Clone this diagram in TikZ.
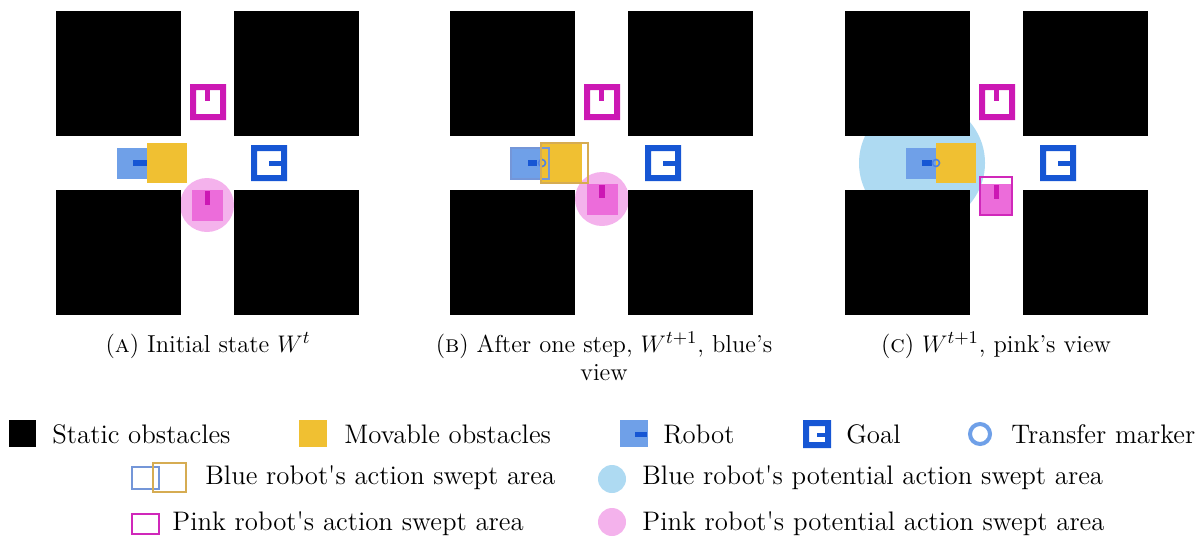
\documentclass[tikz,border=0pt]{standalone}
\usepackage{fontspec}
\usepackage{tikz}
\usetikzlibrary{positioning}
\definecolor{robotblue}{RGB}{111,160,232}
\definecolor{darkblue}{RGB}{22,86,212}
\definecolor{markblue}{RGB}{80,130,226}
\definecolor{movyellow}{RGB}{240,192,50}
\definecolor{goalpink}{RGB}{204,24,180}
\definecolor{robotpink}{RGB}{236,108,218}
\definecolor{circpink}{RGB}{244,178,236}
\definecolor{circblue}{RGB}{174,218,242}
\definecolor{sweptblue}{RGB}{116,150,216}
\definecolor{swepttan}{RGB}{214,172,82}
\definecolor{sweptpink}{RGB}{208,40,186}

\begin{document}
\begin{tikzpicture}[x=0.5pt, y=-0.5pt,
    legtext/.style={anchor=base west, inner sep=0pt, font=\fontsize{13.4}{16}\selectfont},
    captext/.style={anchor=base, inner sep=0pt, align=center, font=\fontsize{12.25}{14}\selectfont},
    swept/.style={line width=0.6pt}]
  \useasboundingbox (0,0) rectangle (1203,536);

  % Potential swept areas (under the walls)
  \fill[circpink] (207,205) circle (27);
  \fill[circpink] (602,199) circle (27);
  \fill[circblue] (922,163) circle (63);

  % Walls and goals, same in every panel
  \foreach \dx in {0,394,789}{
    \begin{scope}[shift={(\dx,0)}]
      \fill[black] (56,11) rectangle (181,136);
      \fill[black] (234,11) rectangle (359,136);
      \fill[black] (56,190) rectangle (181,315);
      \fill[black] (234,190) rectangle (359,315);
      % pink goal
      \fill[goalpink, even odd rule] (190,84) rectangle (226,120) (196,90) rectangle (220,114);
      \fill[goalpink] (205,90) rectangle (210,101);
      % blue goal
      \fill[darkblue, even odd rule] (251,145) rectangle (287,181) (257,151) rectangle (281,175);
      \fill[darkblue] (269,161) rectangle (281,166);
    \end{scope}
  }

  % (A) initial state
  \fill[robotblue] (117,148) rectangle (148,179);
  \fill[darkblue] (133,160) rectangle (147,166);
  \fill[movyellow] (147,143) rectangle (187,183);
  \fill[robotpink] (192,190) rectangle (223,221);
  \fill[goalpink] (205,191) rectangle (210,205);

  % (B) blue's view
  \fill[robotblue] (511,148) rectangle (542,179);
  \fill[movyellow] (541,143) rectangle (582,183);
  \fill[darkblue] (528,160) rectangle (537,166);
  \draw[markblue, line width=0.8pt] (542,163) circle (3.5);
  \draw[sweptblue, swept] (511,148) rectangle (549,179);
  \draw[swepttan, swept] (541,143) rectangle (588,183);
  \fill[robotpink] (587,184) rectangle (618,215);
  \fill[goalpink] (599,185) rectangle (605,198);

  % (C) pink's view
  \fill[robotblue] (906,148) rectangle (937,179);
  \fill[movyellow] (936,143) rectangle (976,183);
  \fill[darkblue] (922,160) rectangle (932,166);
  \draw[markblue, line width=0.8pt] (936,163) circle (3.5);
  \fill[robotpink] (980,184) rectangle (1012,215);
  \fill[goalpink] (994,185) rectangle (999,199);
  \draw[sweptpink, swept] (980,177) rectangle (1012,215);

  % Captions
  \node[captext] (capA) at (208,352) {(\textsc{a}) Initial state $W^t$};
  \node[captext] (capB) at (604,380) {(\textsc{b}) After one step, $W^{t+1}$, blue's\\view};
  \node[captext] (capC) at (996,352) {(\textsc{c}) $W^{t+1}$, pink's view};

  % Legend, first row
  \fill[black] (9,420) rectangle (36,447);
  \node[legtext] (lstatic) at (52,443) {Static obstacles};
  \fill[movyellow] (299,420) rectangle (327,447);
  \node[legtext] (lmovable) at (344,443) {Movable obstacles};
  \fill[robotblue] (620,420) rectangle (648,447);
  \fill[darkblue] (635,432) rectangle (647,437);
  \node[legtext] (lrobot) at (663,443) {Robot};
  \fill[darkblue, even odd rule] (803,420) rectangle (831,448) (809,426) rectangle (825,442);
  \fill[darkblue] (817,433) rectangle (825,437);
  \node[legtext] (lgoal) at (846,443) {Goal};
  \draw[robotblue, line width=2pt] (980,434) circle (10);
  \node[legtext] (lmarker) at (1011,443) {Transfer marker};

  % Legend, swept areas
  \draw[sweptblue, line width=1pt] (132,467) rectangle (159,489);
  \draw[swepttan, line width=1pt] (153,463) rectangle (186,492);
  \node[legtext] (lbluesw) at (205,484) {Blue robot\textquotesingle s action swept area};
  \fill[circblue] (612,479) circle (14);
  \node[legtext] (lbluepot) at (642,484) {Blue robot\textquotesingle s potential action swept area};
  \draw[sweptpink, line width=1pt] (132,514) rectangle (159,534);
  \node[legtext] (lpinksw) at (172,530) {Pink robot\textquotesingle s action swept area};
  \fill[circpink] (612,522) circle (14);
  \node[legtext] (lpinkpot) at (642,530) {Pink robot\textquotesingle s potential action swept area};
\end{tikzpicture}
\end{document}
